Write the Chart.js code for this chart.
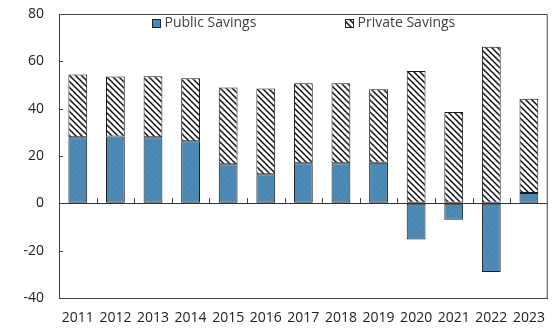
<!DOCTYPE html>
<html lang="en">
<head>
  <meta charset="UTF-8" />
  <title>Public and Private Savings</title>
  <script src="https://cdn.jsdelivr.net/npm/chart.js"></script>
  <style>
    html, body { margin: 0; padding: 0; background: #ffffff; }
    #wrap { position: relative; width: 557px; height: 330px; }
  </style>
</head>
<body>
  <div id="wrap"><canvas id="chart"></canvas></div>
  <script>
    const years = ["2011", "2012", "2013", "2014", "2015", "2016", "2017", "2018", "2019", "2020", "2021", "2022", "2023"];
    const publicSavings = [27.9, 28.2, 27.9, 26.2, 16.5, 12.3, 16.9, 16.9, 17.2, -15.3, -6.9, -29.0, 4.4];
    const privateSavings = [26.5, 25.4, 25.8, 26.6, 32.4, 36.2, 33.8, 33.8, 31.0, 55.9, 38.6, 66.2, 39.8];
    const yTicks = [-40, -20, 0, 20, 40, 60, 80];

    const FONT = "'Open Sans', 'Noto Sans', sans-serif";
    const BLUE = "#4a87b2";

    function hatch(bg, fg, width) {
      const c = document.createElement("canvas");
      c.width = 6; c.height = 6;
      const g = c.getContext("2d");
      g.fillStyle = bg;
      g.fillRect(0, 0, 6, 6);
      g.strokeStyle = fg;
      g.lineWidth = width;
      g.beginPath();
      g.moveTo(-1, -1); g.lineTo(7, 7);
      g.moveTo(-1, 5); g.lineTo(1, 7);
      g.moveTo(5, -1); g.lineTo(7, 1);
      g.stroke();
      return g.createPattern(c, "repeat");
    }
    const privateFill = hatch("#ffffff", "#111111", 1.5);
    const publicFill = hatch(BLUE, "#5290bb", 1);

    // frame, small tick marks on the zero line and inward y ticks
    const framePlugin = {
      id: "frame",
      afterDatasetsDraw(chart) {
        const { ctx, chartArea: a, scales: { x, y } } = chart;
        ctx.save();
        ctx.strokeStyle = "#444";
        ctx.lineWidth = 1;
        ctx.beginPath();
        ctx.moveTo(a.left, a.top + 0.5);
        ctx.lineTo(a.right - 0.5, a.top + 0.5);
        ctx.lineTo(a.right - 0.5, a.bottom);
        ctx.stroke();

        const y0 = Math.round(y.getPixelForValue(0));
        const step = x.getPixelForValue(1) - x.getPixelForValue(0);
        ctx.beginPath();
        for (let i = 0; i < years.length - 1; i++) {
          const px = Math.round(x.getPixelForValue(i) + step / 2) + 0.5;
          ctx.moveTo(px, y0 - 5);
          ctx.lineTo(px, y0);
        }
        yTicks.forEach(v => {
          const py = Math.round(y.getPixelForValue(v)) + 0.5;
          ctx.moveTo(a.left, py);
          ctx.lineTo(a.left + 4, py);
        });
        ctx.stroke();
        ctx.restore();
      }
    };

    // legend drawn inside the plot area
    const legendPlugin = {
      id: "insideLegend",
      afterDraw(chart) {
        const { ctx, chartArea: a } = chart;
        const spots = [0.19, 0.585];
        ctx.save();
        ctx.font = "14px " + FONT;
        ctx.textBaseline = "middle";
        chart.data.datasets.forEach((ds, i) => {
          const bx = Math.round(a.left + a.width * spots[i]) + 0.5;
          const by = a.top + 5.5;
          ctx.fillStyle = ds.backgroundColor;
          ctx.fillRect(bx, by, 8, 8);
          ctx.strokeStyle = "#222";
          ctx.lineWidth = 1;
          ctx.strokeRect(bx, by, 8, 8);
          ctx.fillStyle = "#404040";
          ctx.fillText(ds.label, bx + 12, by + 4);
        });
        ctx.restore();
      }
    };

    new Chart(document.getElementById("chart"), {
      type: "bar",
      data: {
        labels: years,
        datasets: [
          { label: "Public Savings", data: publicSavings, backgroundColor: publicFill, borderColor: "#1a1a1a", borderWidth: 1, borderSkipped: false },
          { label: "Private Savings", data: privateSavings, backgroundColor: privateFill, borderColor: "#1a1a1a", borderWidth: 1, borderSkipped: false }
        ]
      },
      options: {
        responsive: true,
        maintainAspectRatio: false,
        animation: false,
        layout: { padding: { top: 14, right: 2, left: 0, bottom: 0 } },
        datasets: { bar: { barPercentage: 1, categoryPercentage: 0.5 } },
        plugins: {
          legend: { display: false },
          tooltip: { enabled: false }
        },
        scales: {
          x: {
            stacked: true,
            grid: { display: false, drawTicks: false },
            border: { display: true, color: "#444", width: 1 },
            ticks: { color: "#222", font: { family: FONT, size: 14 }, padding: 12, maxRotation: 0, autoSkip: false },
            afterFit(s) { s.height = 32; }
          },
          y: {
            stacked: true,
            min: -40,
            max: 80,
            afterBuildTicks(s) { s.ticks = yTicks.map(v => ({ value: v })); },
            grid: {
              drawTicks: true,
              tickLength: 15,
              tickColor: "rgba(0,0,0,0)",
              color: c => (c.tick && c.tick.value === 0 ? "#333" : "rgba(0,0,0,0)"),
              lineWidth: 1
            },
            border: { display: true, color: "#444", width: 1 },
            ticks: { color: "#222", font: { family: FONT, size: 14 }, padding: 0 },
            afterFit(s) { s.width = 59; }
          }
        }
      },
      plugins: [framePlugin, legendPlugin]
    });
  </script>
</body>
</html>
